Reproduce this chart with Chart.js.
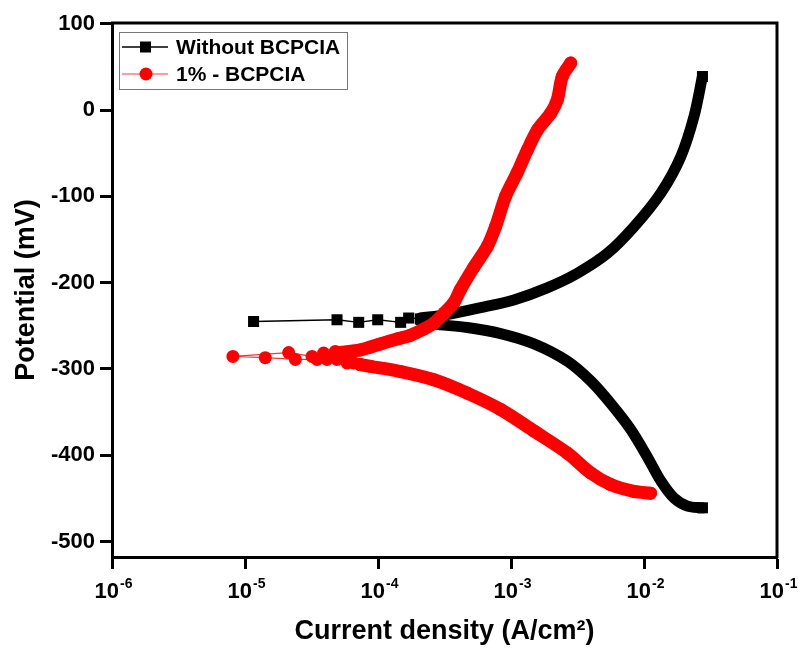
<!DOCTYPE html>
<html>
<head>
<meta charset="utf-8">
<title>Polarization curves</title>
<script src="https://cdn.jsdelivr.net/npm/chart.js@4.4.1/dist/chart.umd.min.js"></script>
<style>
  html, body { margin: 0; padding: 0; background: #fff; }
  canvas { display: block; }
</style>
</head>
<body>
<canvas id="chart" width="798" height="648"></canvas>
<script>
// current density in A/cm2, potential in mV
var blankTailI = [1.16e-5, 4.92e-5, 7.16e-5, 9.95e-5, 1.48e-4, 1.70e-4, 2.08e-4];
var blankTailE = [-245, -243, -246, -243, -246, -241, -242];

var blankAnodicI = [2.08e-4, 3.31e-4, 5.90e-4, 1.05e-3, 1.87e-3, 3.16e-3, 5.31e-3, 8.43e-3, 1.34e-2, 1.89e-2, 2.38e-2, 2.75e-2];
var blankAnodicE = [-241, -237, -229, -220, -206, -189, -166, -135, -96, -54, -7, 39];

var blankCathodicI = [2.08e-4, 2.63e-4, 4.69e-4, 8.36e-4, 1.49e-3, 2.65e-3, 3.98e-3, 5.62e-3, 7.94e-3, 1.06e-2, 1.34e-2, 1.69e-2, 2.12e-2, 2.75e-2];
var blankCathodicE = [-245, -248, -252, -259, -271, -291, -314, -340, -370, -402, -430, -450, -459, -461];

var inhTailI = [7.36e-5, 6.56e-5, 5.85e-5, 4.91e-5, 4.13e-5, 3.48e-5, 2.39e-5, 1.42e-5, 8.11e-6, 2.13e-5, 3.19e-5, 3.90e-5, 4.78e-5, 5.51e-5];
var inhTailE = [-295, -293, -293, -289, -289, -289, -289, -287, -285.5, -281, -285.5, -281.6, -279.7, -285.5];

var inhAnodicI = [5.21e-5, 7.36e-5, 1.04e-4, 1.41e-4, 1.75e-4, 2.19e-4, 2.63e-4, 3.16e-4, 3.72e-4, 4.17e-4, 5.26e-4, 6.64e-4, 7.66e-4, 9.10e-4, 1.11e-3, 1.33e-3, 1.58e-3, 1.99e-3, 2.23e-3, 2.43e-3, 2.81e-3];
var inhAnodicE = [-281, -278, -271, -265, -261, -254, -247, -235, -223, -208, -182, -158, -135, -100, -73, -46, -23, -3.5, 12, 39, 54.5];

var inhCathodicI = [7.36e-5, 8.77e-5, 1.48e-4, 2.63e-4, 4.69e-4, 8.36e-4, 1.49e-3, 2.65e-3, 3.98e-3, 5.62e-3, 8.41e-3, 1.12e-2];
var inhCathodicE = [-295, -297, -303, -312.5, -328, -347, -372, -397.5, -420.6, -434, -442, -444];

var xTicks = [1e-6, 1e-5, 1e-4, 1e-3, 1e-2, 1e-1];
var yTicks = [100, 0, -100, -200, -300, -400, -500];

var seriesNames = ['Without BCPCIA', '1% - BCPCIA'];

var toPoints = (xs, ys) => xs.map((x, i) => ({x: x, y: ys[i]}));

var FONT = "'Liberation Sans', Arial, sans-serif";

// thick band of overlapping markers; squares only at the end so the band stays smooth
function branch(xs, ys, color, style, width, radius, cap, order, onlyEnd) {
    return {
        data: toPoints(xs, ys),
        showLine: true,
        borderColor: color,
        backgroundColor: color,
        borderWidth: width,
        borderCapStyle: cap,
        borderJoinStyle: 'round',
        tension: 0.3,
        pointStyle: style,
        pointRadius: onlyEnd ? (c => c.dataIndex === xs.length - 1 ? radius : 0) : radius,
        pointBorderWidth: 0,
        order: order
    };
}

function tail(xs, ys, color, lineColor, style, radius, order) {
    return {
        data: toPoints(xs, ys),
        showLine: true,
        borderColor: lineColor,
        backgroundColor: color,
        borderWidth: 1.3,
        tension: 0,
        pointStyle: style,
        pointRadius: radius,
        pointBorderWidth: 0,
        order: order
    };
}

var frameAndLegend = {
    id: 'frameAndLegend',
    beforeDraw(chart) {
        const c = chart.ctx;
        c.save();
        c.fillStyle = '#fff';
        c.fillRect(0, 0, chart.width, chart.height);
        c.restore();
    },
    afterDraw(chart) {
        const c = chart.ctx;
        const a = chart.chartArea;
        c.save();
        c.strokeStyle = '#000';
        c.lineWidth = 3;
        c.beginPath();
        c.moveTo(a.left - 1, a.top);
        c.lineTo(a.right, a.top);
        c.lineTo(a.right, a.bottom + 1);
        c.stroke();

        // x tick labels as 10 with a raised exponent
        const xs = chart.scales.x;
        c.fillStyle = '#000';
        c.textBaseline = 'alphabetic';
        c.textAlign = 'left';
        xTicks.forEach(v => {
            const px = xs.getPixelForValue(v);
            const exp = String(Math.round(Math.log10(v)));
            c.font = 'bold 22px ' + FONT;
            const wb = c.measureText('10').width;
            c.font = 'bold 14px ' + FONT;
            const we = c.measureText(exp).width;
            const x0 = px - (wb + we) / 2 + 1;
            c.font = 'bold 22px ' + FONT;
            c.fillText('10', x0, xs.top + 41);
            c.font = 'bold 14px ' + FONT;
            c.fillText(exp, x0 + wb + 1, xs.top + 31);
        });

        // legend box
        const bx = a.left + 7, by = a.top + 9, bw = 228, bh = 57;
        c.lineWidth = 1;
        c.strokeStyle = '#777';
        c.strokeRect(bx + 0.5, by + 0.5, bw, bh);
        const rows = [
            {y: by + 15, line: '#000', fill: '#000', style: 'rect'},
            {y: by + 42, line: '#f08080', fill: '#f00', style: 'circle'}
        ];
        c.font = 'bold 21px ' + FONT;
        c.textBaseline = 'middle';
        c.textAlign = 'left';
        rows.forEach((r, i) => {
            c.strokeStyle = r.line;
            c.lineWidth = 1.3;
            c.beginPath();
            c.moveTo(bx + 3, r.y);
            c.lineTo(bx + 49, r.y);
            c.stroke();
            c.fillStyle = r.fill;
            if (r.style === 'rect') {
                c.fillRect(bx + 21, r.y - 5.5, 11, 11);
            } else {
                c.beginPath();
                c.arc(bx + 27, r.y, 6.5, 0, Math.PI * 2);
                c.fill();
            }
            c.fillStyle = '#000';
            c.fillText(seriesNames[i], bx + 57, r.y + 1);
        });
        c.restore();
    }
};

const ctx = document.getElementById('chart').getContext('2d');
var chart = new Chart(ctx, {
    type: 'scatter',
    data: {
        datasets: [
            branch(inhCathodicI, inhCathodicE, '#f00', 'circle', 13, 6.5, 'round', 0, false),
            branch(inhAnodicI, inhAnodicE, '#f00', 'circle', 13, 6.5, 'round', 0, false),
            tail(inhTailI, inhTailE, '#f00', '#e04040', 'circle', 6.5, 0),
            branch(blankCathodicI, blankCathodicE, '#000', 'rect', 11, 7.8, 'round', 1, true),
            branch(blankAnodicI, blankAnodicE, '#000', 'rect', 11, 7.8, 'round', 1, true),
            tail(blankTailI, blankTailE, '#000', '#000', 'rect', 7.8, 1)
        ]
    },
    options: {
        responsive: false,
        animation: false,
        devicePixelRatio: 1,
        layout: {
            padding: {left: 0, top: 23, right: 21, bottom: 0}
        },
        plugins: {
            legend: {display: false},
            tooltip: {enabled: false}
        },
        scales: {
            x: {
                type: 'logarithmic',
                min: 1e-6,
                max: 1e-1,
                afterBuildTicks: axis => { axis.ticks = xTicks.map(v => ({value: v, major: true})); },
                afterFit: axis => { axis.height = 91; axis.paddingLeft = 0; axis.paddingRight = 0; },
                ticks: {
                    display: false
                },
                grid: {
                    display: true,
                    drawOnChartArea: false,
                    drawTicks: true,
                    tickLength: 12,
                    tickWidth: 3,
                    tickColor: '#000'
                },
                border: {display: true, color: '#000', width: 3},
                title: {
                    display: true,
                    text: 'Current density (A/cm\u00B2)',
                    color: '#000',
                    padding: {top: 0, bottom: 0},
                    font: {family: FONT, size: 27, weight: 'bold'}
                }
            },
            y: {
                type: 'linear',
                min: -518,
                max: 101,
                afterBuildTicks: axis => { axis.ticks = yTicks.map(v => ({value: v})); },
                afterFit: axis => { axis.width = 112; },
                ticks: {
                    color: '#000',
                    padding: 5,
                    font: {family: FONT, size: 22, weight: 'bold'}
                },
                grid: {
                    display: true,
                    drawOnChartArea: false,
                    drawTicks: true,
                    tickLength: 12,
                    tickWidth: 3,
                    tickColor: '#000'
                },
                border: {display: true, color: '#000', width: 3},
                title: {
                    display: true,
                    text: 'Potential (mV)',
                    color: '#000',
                    padding: {top: 10, bottom: 0},
                    font: {family: FONT, size: 27, weight: 'bold'}
                }
            }
        }
    },
    plugins: [frameAndLegend]
});
</script>
</body>
</html>
